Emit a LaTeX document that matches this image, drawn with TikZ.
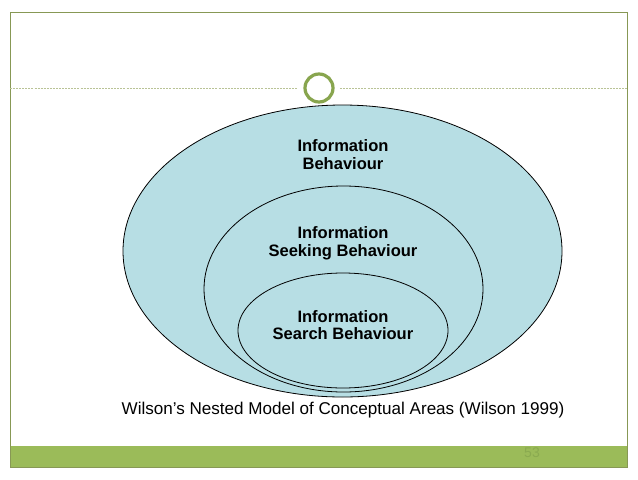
\documentclass[tikz,border=0pt]{standalone}
\usepackage{fontspec}
\setmainfont{Liberation Sans}
\usetikzlibrary{positioning}
\definecolor{SlideOlive}{RGB}{135,152,85}
\definecolor{BarGreen}{RGB}{155,187,89}
\definecolor{RuleGray}{RGB}{185,195,150}
\definecolor{AreaBlue}{RGB}{183,222,228}
\definecolor{PageNum}{RGB}{138,170,80}
\begin{document}
\begin{tikzpicture}[x=0.75pt,y=-0.75pt,
area/.style={draw=black,line width=0.6pt,fill=AreaBlue},
lbl/.style={align=center,font=\fontsize{12.4}{13.2}\selectfont\bfseries},
ring/.style={circle,draw=BarGreen!88!black,line width=2.4pt,minimum size=21pt,inner sep=0pt},
rule/.style={draw=RuleGray,line width=0.6pt,dash pattern=on 1.5pt off 0.8pt}
]
\useasboundingbox (0,0) rectangle (638,479);
\fill[white] (0,0) rectangle (638,479);
% slide frame and footer
\fill[BarGreen] (10,446) rectangle (627,467);
\draw[SlideOlive,line width=0.75pt] (10,12) rectangle (627,467);
\node[font=\fontsize{10.5}{12}\selectfont,text=PageNum] (page) at (532,453) {53};
% title rule
\node[ring] (ring) at (319,88) {};
\draw[rule,shorten >=4pt] (10,88) -- (ring.west);
\draw[rule,shorten <=4pt] (ring.east) -- (627,88);
% nested areas
\draw[area] (342.5,251) ellipse [x radius=219.5, y radius=146];
\draw[area] (343.5,289) ellipse [x radius=139.5, y radius=103];
\draw[area] (343,330.5) ellipse [x radius=105, y radius=57.5];
\node[lbl] (ib) at (343,154.5) {Information\\Behaviour};
\node[lbl] (isb) at (343,243.5) {Information\\Seeking Behaviour};
\node[lbl] (isrch) at (343,325) {Information\\Search Behaviour};
\node[font=\fontsize{12.8}{14}\selectfont] (cap) at (343,410) {Wilson's Nested Model of Conceptual Areas (Wilson 1999)};
\end{tikzpicture}
\end{document}
